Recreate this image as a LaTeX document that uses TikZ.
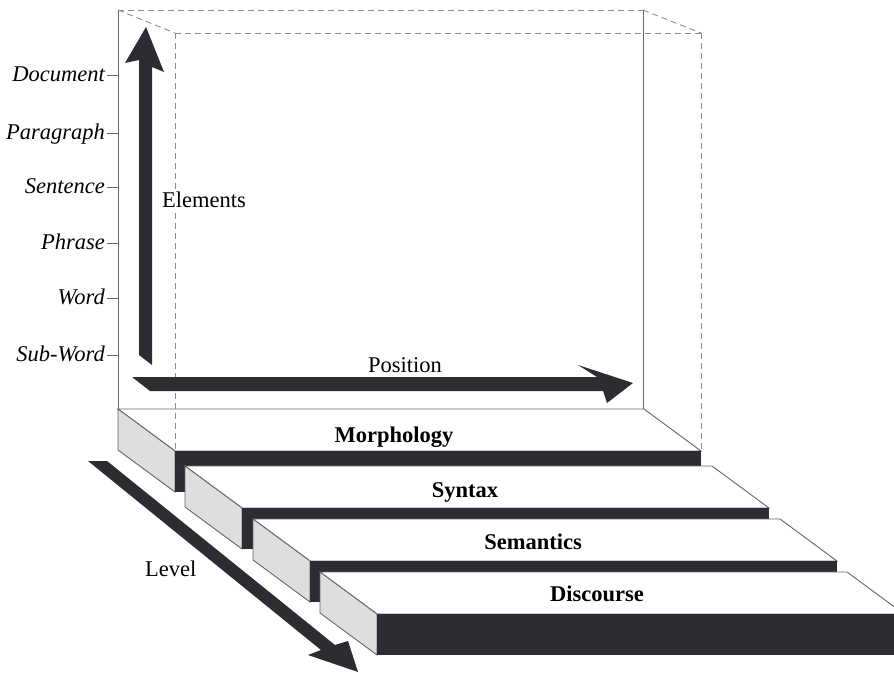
\documentclass[tikz,border=0pt]{standalone}
\usepackage{fontspec}
\setmainfont{Liberation Serif}
\begin{document}
\begin{tikzpicture}[x=1pt,y=-1pt,
  edge/.style={draw=black!60,line width=0.9pt},
  hidden/.style={draw=black!45,line width=0.9pt,dash pattern=on 6pt off 4pt},
  lvl/.style={font=\fontsize{22.5}{27}\selectfont\itshape,anchor=base east,inner sep=0pt},
  lbl/.style={font=\fontsize{22.5}{27}\selectfont,inner sep=0pt},
  slabname/.style={font=\fontsize{22.5}{27}\selectfont\bfseries,anchor=base,inner sep=0pt},
  tickline/.style={draw=black!60,line width=0.9pt}]
\definecolor{arrowdark}{HTML}{2B2D33}
\definecolor{sidegray}{HTML}{DEDEDE}
\useasboundingbox (0,0) rectangle (894,672);
\clip (0,0) rectangle (894,672);
% slabs
\foreach \bx/\by/\w in {118/409/526, 185/466/527, 253/519/527, 320/572/527}{
  \fill[white] (\bx,\by) -- ++(\w,0) -- ++(57,42) -- ++(-\w,0) -- cycle;
  \draw[edge] (\bx,\by) -- ++(\w,0) -- ++(57,42) -- ++(-\w,0) -- cycle;
  \filldraw[fill=sidegray,draw=black!60,line width=0.9pt] (\bx,\by) -- ++(57,42) -- ++(0,41) -- ++(-57,-42) -- cycle;
  \fill[arrowdark] (\bx+57,\by+42) rectangle ++(\w,41);
}
% box
\draw[edge] (118,10) -- (118,409);
\draw[edge] (643,10) -- (643,409);
\draw[hidden] (118,10) -- (643,10);
\draw[hidden] (118,10) -- (175,33);
\draw[hidden] (643,10) -- (701,33);
\draw[hidden] (175,33) -- (701,33);
\draw[hidden] (175,33) -- (175,451);
\draw[hidden] (701,33) -- (701,451);
% ticks and level labels
\foreach \y/\t/\n in {75/Document/doc, 133/Paragraph/par, 187/Sentence/sen, 243/Phrase/phr, 298/Word/wrd, 355/Sub-Word/sub}{
  \node[lvl] (\n) at (105,\y+6) {\t};
  \coordinate (\n t) at (107,\y);
  \coordinate (\n b) at (118,\y);
  \draw[tickline] (\n t) -- (\n b);
}
% axis labels
\node[lbl,anchor=base west,fill=white,inner sep=2pt] (elements) at (160,207) {Elements};
\node[lbl,anchor=base] (position) at (405,372) {Position};
\node[lbl,anchor=base west] (level) at (145,576) {Level};
% slab names
\node[slabname] (morph) at (394,442) {Morphology};
\node[slabname] (syntax) at (465,497) {Syntax};
\node[slabname] (seman) at (533,549) {Semantics};
\node[slabname] (disc) at (597,601) {Discourse};
% arrows
\fill[arrowdark] (139,355) -- (139,60) -- (125,63) -- (146,27) -- (164,72) -- (152,67) -- (152,365) -- cycle;
\fill[arrowdark] (132,377) -- (597,377) -- (578,365) -- (633,383) -- (607,403) -- (603,391) -- (150,391) -- cycle;
\fill[arrowdark] (88,461) -- (107,461) -- (335,645) -- (348,641) -- (358,672) -- (308,655) -- (321,650) -- cycle;
\end{tikzpicture}
\end{document}
